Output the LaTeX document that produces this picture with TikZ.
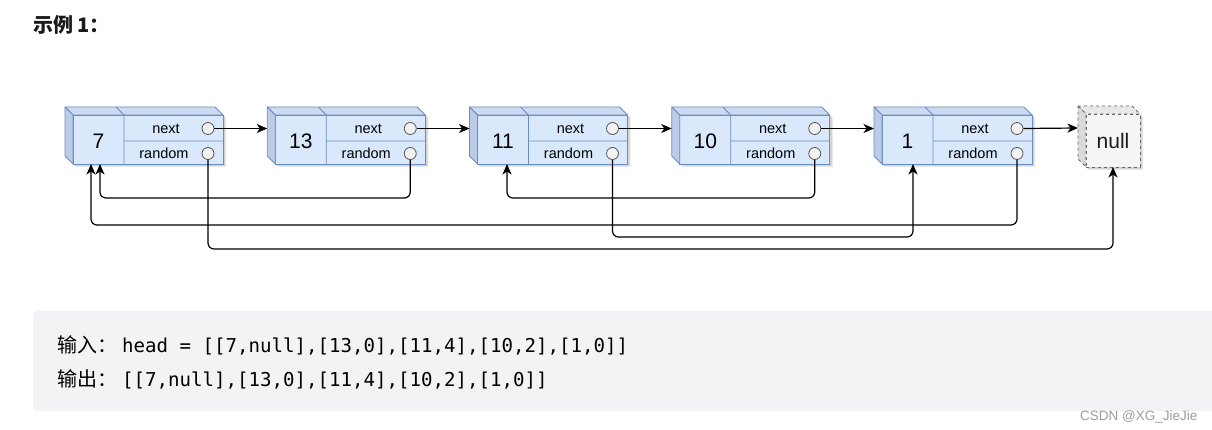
\documentclass[tikz,border=0pt]{standalone}
\usepackage{fontspec}
\setmainfont{Liberation Sans}
\newfontfamily\cjk{Noto Sans CJK SC}
\newfontfamily\monof{DejaVu Sans Mono}
\usetikzlibrary{arrows.meta,calc}
\definecolor{nodefill}{HTML}{DAE8FC}
\definecolor{nodeline}{HTML}{6C8EBF}
\definecolor{nodeleft}{HTML}{BCCCE8}
\definecolor{nodetop}{HTML}{CCDAF2}
\definecolor{nullfill}{HTML}{F5F5F5}
\definecolor{nullline}{HTML}{666666}
\definecolor{nullleft}{HTML}{D9D9D9}
\definecolor{nulltop}{HTML}{E8E8E8}
\definecolor{boxgray}{HTML}{F2F3F5}
\definecolor{wmgray}{HTML}{9E9E9E}
\definecolor{textdark}{HTML}{1A1A1A}
\definecolor{portline}{HTML}{555555}
\definecolor{portfill}{HTML}{F2F2F2}
\tikzset{
  frontbox/.style={draw=nodeline, fill=nodefill, line width=0.9pt, inner sep=0pt, outer sep=0pt, anchor=north west},
  facebox/.style={draw=nodeline, line width=0.9pt, line join=round},
  valtext/.style={inner sep=0pt, font=\fontsize{21}{21}\selectfont, text=black},
  lbltext/.style={inner sep=0pt, anchor=base, font=\fontsize{14.5}{14.5}\selectfont, text=black},
  port/.style={circle, draw=portline, fill=portfill, line width=0.8pt, minimum size=12pt, inner sep=0pt},
  conn/.style={draw=black, line width=1.2pt, rounded corners=6pt, -{Stealth[length=10.5pt,width=9pt,inset=3pt]}},
  shadowfill/.style={fill=black, opacity=0.09},
}
\begin{document}
\begin{tikzpicture}[x=1pt,y=-1pt]
\useasboundingbox (0,0) rectangle (1212,430);
\fill[white] (0,0) rectangle (1212,430);

% title
\node[anchor=base west, inner sep=0pt, font=\cjk\bfseries\fontsize{20}{20}\selectfont, text=textdark] (title) at (33,33) {示例 1：};

% list nodes
\foreach \i/\v in {0/7,1/13,2/11,3/10,4/1}{
  \begin{scope}[shift={({73+202.25*\i},115)}]
    \fill[shadowfill] (-5,-5) -- (145,-5) -- (153,3) -- (153,52) -- (3,52) -- (-5,44) -- cycle;
    \fill[shadowfill] (-6,-6) -- (144,-6) -- (152,2) -- (152,51) -- (2,51) -- (-6,43) -- cycle;
    \node[frontbox, minimum width=150pt, minimum height=49pt] (n\i) at (0,0) {};
    \filldraw[facebox, fill=nodetop] (-8,-8) -- (142,-8) -- (150,0) -- (0,0) -- cycle;
    \filldraw[facebox, fill=nodeleft] (-8,-8) -- (0,0) -- (0,49) -- (-8,41) -- cycle;
    \draw[nodeline, line width=0.9pt] (51,0) -- (51,49) (51,0) -- (43,-8) (51,26) -- (150,26);
    \node[valtext] (v\i) at (25.5,26) {\v};
    \node[lbltext] (ln\i) at (93,18.5) {next};
    \node[lbltext] (lr\i) at (91,43.5) {random};
    \node[port] (nx\i) at (135,13.5) {};
    \node[port] (rd\i) at (135,38.5) {};
    \coordinate (in\i) at (-8,13.5);
  \end{scope}
}

% null node
\begin{scope}[shift={(1086,114)}]
  \fill[shadowfill] (-5,-5) -- (49,-5) -- (57,3) -- (57,56) -- (3,56) -- (-5,48) -- cycle;
  \fill[shadowfill] (-6,-6) -- (48,-6) -- (56,2) -- (56,55) -- (2,55) -- (-6,47) -- cycle;
  \filldraw[fill=nulltop, draw=nullline, line width=0.9pt, dashed, line join=round] (-8,-8) -- (46,-8) -- (54,0) -- (0,0) -- cycle;
  \filldraw[fill=nullleft, draw=nullline, line width=0.9pt, dashed, line join=round] (-8,-8) -- (0,0) -- (0,53) -- (-8,45) -- cycle;
  \node[draw=nullline, fill=nullfill, line width=0.9pt, dashed, inner sep=0pt, outer sep=0pt, anchor=north west, minimum width=54pt, minimum height=53pt] (nul) at (0,0) {};
  \node[inner sep=0pt, font=\fontsize{21}{21}\selectfont, text=textdark] (nultext) at (27,27) {null};
  \coordinate (innull) at (-8,14);
\end{scope}

% next connectors
\draw[conn] (nx0.east) -- (in1);
\draw[conn] (nx1.east) -- (in2);
\draw[conn] (nx2.east) -- (in3);
\draw[conn] (nx3.east) -- (in4);
\draw[conn] (nx4.east) -- (innull);

% lanes and random targets
\coordinate (laneA) at (0,198);
\coordinate (laneB) at (0,225);
\coordinate (laneC) at (0,237);
\coordinate (laneD) at (0,249);
\coordinate (t0a) at ($(n0.south west)+(27,0)$);
\coordinate (t0b) at ($(n0.south west)+(18,0)$);
\coordinate (t2) at ($(n2.south west)+(29.5,0)$);
\coordinate (t4) at ($(n4.south west)+(31,0)$);

% random connectors
\draw[conn] (rd0.south) -- (rd0.south |- laneD) -| (nul.south);
\draw[conn] (rd1.south) -- (rd1.south |- laneA) -| (t0a);
\draw[conn] (rd2.south) -- (rd2.south |- laneC) -| (t4);
\draw[conn] (rd3.south) -- (rd3.south |- laneA) -| (t2);
\draw[conn] (rd4.south) -- (rd4.south |- laneB) -| (t0b);

% example box
\fill[boxgray, rounded corners=4pt] (33,311) rectangle (1220,411);
\node[anchor=base west, inner sep=0pt, font=\cjk\fontsize{20}{20}\selectfont, text=black] (inlab) at (57,352) {输入：};
\node[anchor=base west, inner sep=0pt, font=\monof\fontsize{19.1}{19.1}\selectfont, text=black] (incode) at (122,352) {head = [[7,null],[13,0],[11,4],[10,2],[1,0]]};
\node[anchor=base west, inner sep=0pt, font=\cjk\fontsize{20}{20}\selectfont, text=black] (outlab) at (57,386.5) {输出：};
\node[anchor=base west, inner sep=0pt, font=\monof\fontsize{19.1}{19.1}\selectfont, text=black] (outcode) at (122,386.5) {[[7,null],[13,0],[11,4],[10,2],[1,0]]};

% watermark
\node[anchor=base west, inner sep=0pt, font=\fontsize{13.5}{13.5}\selectfont, text=wmgray] (wm) at (1080,420) {CSDN @XG\_JieJie};
\end{tikzpicture}
\end{document}
